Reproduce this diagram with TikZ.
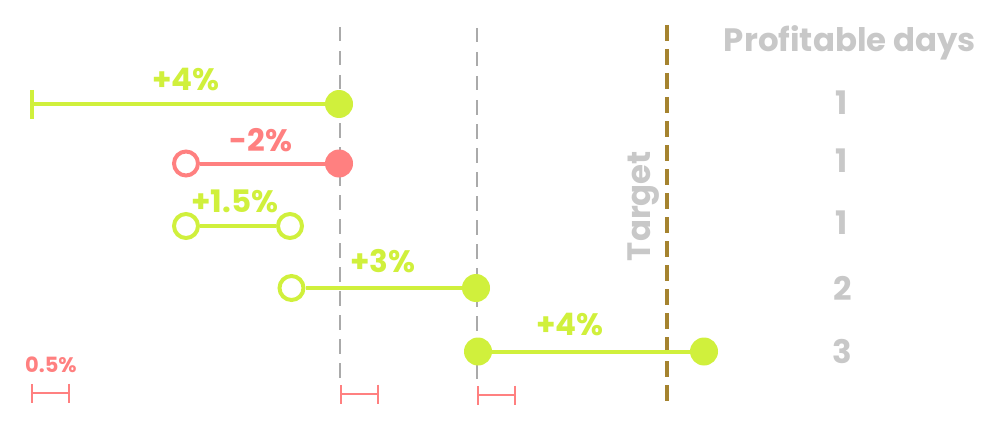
\documentclass[tikz,border=0pt]{standalone}
\usepackage{fontspec}
\usetikzlibrary{arrows.meta}
\setmainfont{Poppins}
\definecolor{lime}{HTML}{D0F03C}
\definecolor{coral}{HTML}{FF8080}
\definecolor{softgray}{HTML}{C8C8C8}
\definecolor{dashgray}{HTML}{AAAAAA}
\definecolor{targetgold}{HTML}{A5832F}
\tikzset{
  x=1pt,y=-1pt,
  solidpt/.style={circle,inner sep=0pt,minimum size=28pt,fill=#1},
  openpt/.style={circle,inner sep=0pt,minimum size=24pt,line width=4pt,draw=#1,fill=white},
  barline/.style={line width=4pt,draw=#1},
  pct/.style={font=\fontsize{31}{31}\selectfont\bfseries,text=#1,inner sep=0pt},
  graytxt/.style={font=\fontsize{32.4}{32.4}\selectfont\bfseries,text=softgray,inner sep=0pt},
  guide/.style={line width=2.8pt,draw=dashgray,dash pattern=on 14.5pt off 9.5pt},
  scalebar/.style={line width=2pt,draw=coral,{Bar[width=19pt,line width=2pt]}-{Bar[width=19pt,line width=2pt]}},
}
\begin{document}
\begin{tikzpicture}
\useasboundingbox (0,0) rectangle (1002,428);
% guides
\coordinate (g1a) at (340,27); \coordinate (g1b) at (340,379);
\coordinate (g2a) at (477,28); \coordinate (g2b) at (477,380);
\coordinate (ta) at (666.5,25); \coordinate (tb) at (666.5,402);
\draw[guide] (g1a) -- (g1b);
\draw[guide] (g2a) -- (g2b);
\draw[line width=4pt,draw=targetgold,dash pattern=on 16pt off 8pt] (ta) -- (tb);
% row 1
\coordinate (r1a) at (32,104);
\node[solidpt=lime] (r1b) at (339,104) {};
\draw[barline=lime] (r1a) -- (r1b);
\coordinate (r1t) at (32,90); \coordinate (r1u) at (32,119);
\draw[line width=4pt,draw=lime] (r1t) -- (r1u);
\node[pct=lime] (l1) at (186,80) {+4\%};
% row 2
\node[openpt=coral] (r2a) at (186,163.5) {};
\node[solidpt=coral] (r2b) at (339,163.5) {};
\draw[barline=coral] (r2a) -- (r2b);
\node[pct=coral] (l2) at (261,140) {-2\%};
% row 3
\node[openpt=lime] (r3a) at (186,226) {};
\node[openpt=lime] (r3b) at (290,226) {};
\draw[barline=lime] (r3a) -- (r3b);
\node[pct=lime] (l3) at (235,201) {+1.5\%};
% row 4
\node[openpt=lime] (r4a) at (291.5,288) {};
\node[solidpt=lime] (r4b) at (476,288) {};
\draw[barline=lime] (r4a) -- (r4b);
\node[pct=lime] (l4) at (383,261) {+3\%};
% row 5
\node[solidpt=lime] (r5a) at (478,351.5) {};
\node[solidpt=lime] (r5b) at (704,351.5) {};
\draw[barline=lime] (r5a) -- (r5b);
\node[pct=lime] (l5) at (570,325) {+4\%};
% right column
\node[graytxt] (hd) at (850,43) {Profitable days};
\node[graytxt] (n1) at (842,103) {1};
\node[graytxt] (n2) at (842,161) {1};
\node[graytxt] (n3) at (842,223) {1};
\node[graytxt] (n4) at (842.5,288) {2};
\node[graytxt] (n5) at (842.5,351) {3};
\node[graytxt,rotate=90] (tg) at (644,206) {Target};
% scale
\node[font=\fontsize{21}{21}\selectfont\bfseries,text=coral,inner sep=0pt] (sc) at (51,365) {0.5\%};
\coordinate (s1a) at (30.5,393); \coordinate (s1b) at (69.5,393);
\coordinate (s2a) at (339.5,394); \coordinate (s2b) at (378.5,394);
\coordinate (s3a) at (476.5,395); \coordinate (s3b) at (515.5,395);
\draw[scalebar] (s1a) -- (s1b);
\draw[scalebar] (s2a) -- (s2b);
\draw[scalebar] (s3a) -- (s3b);
\end{tikzpicture}
\end{document}
